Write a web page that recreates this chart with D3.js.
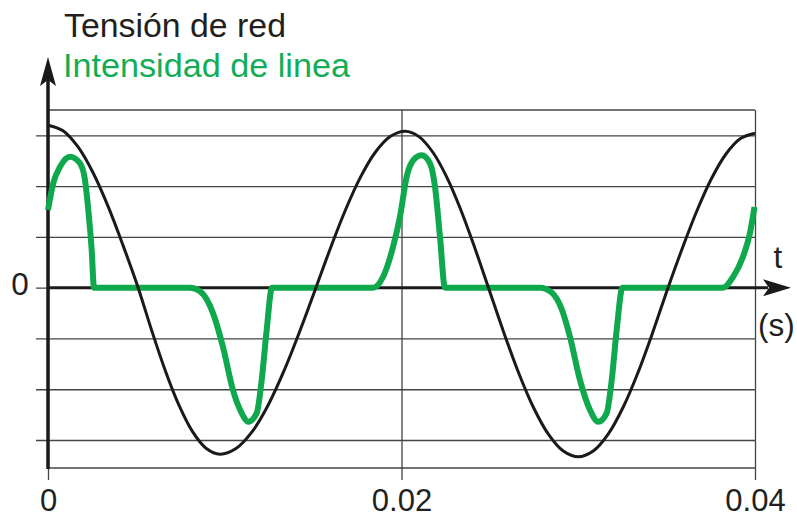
<!DOCTYPE html>
<html>
<head>
<meta charset="utf-8">
<script src="https://cdn.jsdelivr.net/npm/d3@7"></script>
<style>
  html, body { margin: 0; padding: 0; background: #ffffff; }
  svg { display: block; }
  text { font-family: "Liberation Sans", Arial, Helvetica, sans-serif; }
</style>
</head>
<body>
<svg id="chart" width="797" height="518"></svg>
<script>
// ---- data (time in ms, values in grid units) ----
const legendLabels = ["Tensión de red", "Intensidad de linea"];
const xTickValues = [0, 0.02, 0.04];
const xTickLabels = ["0", "0.02", "0.04"];
const yGridValues = [-3, -2, -1, 0, 1, 2, 3];
const yZeroLabel = "0";
const axisLabelT = "t";
const axisLabelUnit = "(s)";

const tensionTime = [0, 0.85, 1.70, 2.55, 3.40, 4.25, 5.10,
  5.872, 6.643, 7.415, 8.187, 8.958, 9.73,
  10.635, 11.54, 12.445, 13.35, 14.255, 15.16,
  16.0, 16.84, 17.68, 18.52, 19.36, 20.2,
  20.987, 21.773, 22.56, 23.347, 24.133, 24.92,
  25.767, 26.613, 27.46, 28.307, 29.153, 30.0,
  30.847, 31.693, 32.54, 33.387, 34.233, 35.08,
  35.90, 36.72, 37.54, 38.36, 39.18, 40.0];
const tensionValue = [3.20, 3.091, 2.771, 2.263, 1.600, 0.828, 0,
  -0.849, -1.640, -2.319, -2.841, -3.168, -3.28,
  -3.168, -2.841, -2.319, -1.640, -0.849, 0,
  0.797, 1.540, 2.178, 2.667, 2.975, 3.08,
  2.975, 2.667, 2.178, 1.540, 0.797, 0,
  -0.862, -1.665, -2.355, -2.884, -3.217, -3.33,
  -3.217, -2.884, -2.355, -1.665, -0.862, 0,
  0.787, 1.520, 2.150, 2.633, 2.936, 3.04];

const currentTime = [0, 0.300, 0.679, 1.245, 1.810, 2.093, 2.280, 2.472, 2.603, 8.034, 8.600, 9.335, 9.901, 10.467, 10.959, 11.332, 11.808, 12.090, 12.373, 12.673, 18.388, 18.953, 19.519, 19.915, 20.294, 20.764, 21.143, 21.612, 21.895, 22.178, 22.461, 27.836, 28.515, 29.081, 29.533, 30.099, 30.665, 31.135, 31.609, 31.893, 32.175, 32.503, 38.189, 38.755, 39.321, 39.717, 39.972];
const currentValue = [1.53, 2.06, 2.38, 2.58, 2.45, 2.12, 1.53, 0.74, 0, 0, -0.07, -0.50, -1.17, -2.02, -2.47, -2.64, -2.47, -1.82, -0.83, 0, 0, 0.21, 0.80, 1.40, 2.19, 2.55, 2.61, 2.45, 1.99, 1.00, 0, 0, -0.10, -0.44, -0.97, -1.82, -2.41, -2.64, -2.47, -1.82, -0.83, 0, 0, 0.21, 0.61, 1.08, 1.59];

// ---- drawing ----
const svg = d3.select("#chart");
const green = "#0fa84c";
const greenText = "#13ad57";
const dark = "#231f20";
const gridColor = "#444444";

const x = d3.scaleLinear().domain([0, 0.04]).range([48, 755]);
const y = d3.scaleLinear().domain([-3.551, 3.499]).range([468, 110]);

// horizontal grid lines (with small left overhang ticks)
const yGrid = svg.append("g")
  .attr("transform", "translate(36,0)")
  .call(d3.axisRight(y).tickValues(yGridValues).tickSize(x(0.04) - 36).tickFormat(""));
yGrid.select(".domain").remove();
yGrid.selectAll(".tick line").attr("stroke", gridColor).attr("stroke-width", 1.3);

// top and bottom frame lines
[y.domain()[1], y.domain()[0]].forEach(v => {
  svg.append("line")
    .attr("x1", x(0)).attr("x2", x(0.04))
    .attr("y1", y(v)).attr("y2", y(v))
    .attr("stroke", gridColor).attr("stroke-width", 1.3);
});

// vertical grid lines + bottom tick labels
const topY = y(y.domain()[1]);
const xAxis = svg.append("g")
  .attr("transform", `translate(0,${topY})`)
  .call(d3.axisBottom(x).tickValues(xTickValues).tickSize(480 - topY)
    .tickFormat((d, i) => xTickLabels[i]));
xAxis.select(".domain").remove();
xAxis.selectAll(".tick line").attr("stroke", gridColor).attr("stroke-width", 1.3);
xAxis.selectAll(".tick text")
  .attr("y", 511 - topY).attr("dy", 0)
  .attr("fill", dark)
  .attr("font-size", 31)
  .attr("font-family", "Liberation Sans, Arial, sans-serif");

// zero line (x axis) with arrow
const y0 = y(0);
svg.append("line")
  .attr("x1", x(0)).attr("x2", 768)
  .attr("y1", y0).attr("y2", y0)
  .attr("stroke", "#1a1a1a").attr("stroke-width", 3);
svg.append("path")
  .attr("d", `M791,${y0} L763,${y0 - 8.5} L769,${y0} L763,${y0 + 8.5} Z`)
  .attr("fill", "#1a1a1a");

// y axis with arrow
svg.append("line")
  .attr("x1", x(0)).attr("x2", x(0))
  .attr("y1", 469).attr("y2", 80)
  .attr("stroke", "#1a1a1a").attr("stroke-width", 3.5);
svg.append("path")
  .attr("d", `M${x(0)},57 L${x(0) - 8},86 L${x(0)},80 L${x(0) + 8},86 Z`)
  .attr("fill", "#1a1a1a");

// curves
const lineGen = d3.line()
  .x(d => x(d[0] / 1000))
  .y(d => y(d[1]));

const currentData = currentTime.map((t, i) => [t, currentValue[i]]);
const tensionData = tensionTime.map((t, i) => [t, tensionValue[i]]);

svg.append("path")
  .datum(currentData)
  .attr("d", lineGen.curve(d3.curveMonotoneX))
  .attr("fill", "none")
  .attr("stroke", green)
  .attr("stroke-width", 6)
  .attr("stroke-linejoin", "round");

svg.append("path")
  .datum(tensionData)
  .attr("d", lineGen.curve(d3.curveCatmullRom.alpha(0.5)))
  .attr("fill", "none")
  .attr("stroke", "#1a1a1a")
  .attr("stroke-width", 3);

// labels
svg.append("text")
  .attr("x", 20).attr("y", 295)
  .attr("text-anchor", "middle")
  .attr("font-size", 31.5)
  .attr("fill", dark)
  .text(yZeroLabel);

svg.append("text")
  .attr("x", 778).attr("y", 268)
  .attr("text-anchor", "middle")
  .attr("font-size", 31.5)
  .attr("fill", dark)
  .text(axisLabelT);

svg.append("text")
  .attr("x", 758).attr("y", 336)
  .attr("font-size", 31.5)
  .attr("fill", dark)
  .text(axisLabelUnit);

svg.append("text")
  .attr("x", 64).attr("y", 37)
  .attr("font-size", 33)
  .attr("fill", dark)
  .attr("textLength", 222)
  .attr("lengthAdjust", "spacingAndGlyphs")
  .text(legendLabels[0]);

svg.append("text")
  .attr("x", 63).attr("y", 77)
  .attr("font-size", 33)
  .attr("fill", greenText)
  .attr("textLength", 287)
  .attr("lengthAdjust", "spacingAndGlyphs")
  .text(legendLabels[1]);
</script>
</body>
</html>
